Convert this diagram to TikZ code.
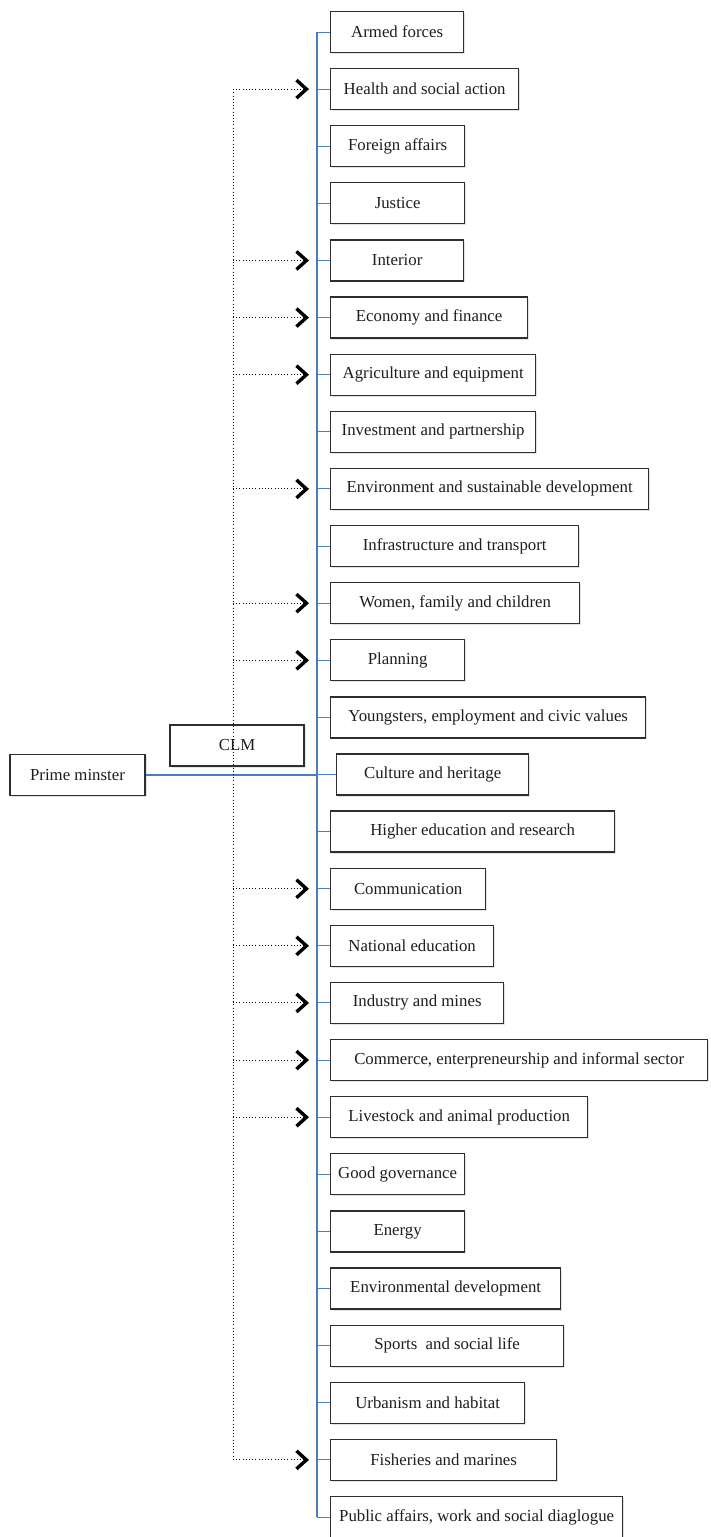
\documentclass[tikz,border=0pt]{standalone}
\usepackage{fontspec}
\setmainfont{Liberation Serif}
\usetikzlibrary{arrows.meta,shadows}
\definecolor{linkblue}{HTML}{4A7EBB}
\definecolor{boxline}{HTML}{2E2E2E}
\definecolor{boxtext}{HTML}{1E1E1E}
\begin{document}
\begin{tikzpicture}[x=1pt,y=-1pt,
  unit/.style={draw=boxline, line width=1.3pt, fill=white, minimum height=41pt,
    inner sep=0pt, text=boxtext, font=\fontsize{16.8}{19}\selectfont,
    drop shadow={shadow xshift=1.5pt, shadow yshift=-1.5pt, opacity=0.22}},
  ministry/.style={unit, anchor=west},
  trunkline/.style={draw=linkblue, line width=2pt},
  tickline/.style={draw=linkblue, line width=1pt},
  dotarrow/.style={line width=1pt, dash pattern=on 1pt off 2.2pt,
    -{Straight Barb[length=10pt,width=18pt,line width=3.4pt]}},
  dotline/.style={line width=1pt, dash pattern=on 1pt off 2.2pt}]
\useasboundingbox (0,0) rectangle (710,1537);

% reference columns: blue trunk and dotted feeder line
\coordinate (tr) at (317,0);
\coordinate (dv) at (233,0);

% ministries, one row every 57.115 units
\foreach \i/\l/\r/\t in {
  1/330/463/{Armed forces},
  2/330/518/{Health and social action},
  3/330/464/{Foreign affairs},
  4/330/464/{Justice},
  5/330/463/{Interior},
  6/330/527/{Economy and finance},
  7/330/535/{Agriculture and equipment},
  8/330/535/{Investment and partnership},
  9/330/648/{Environment and sustainable development},
  10/330/578/{Infrastructure and transport},
  11/330/579/{Women, family and children},
  12/330/464/{Planning},
  13/330/645/{Youngsters, employment and civic values},
  14/336/528/{Culture and heritage},
  15/330/614/{Higher education and research},
  16/330/485/{Communication},
  17/330/493/{National education},
  18/330/503/{Industry and mines},
  19/330/707/{Commerce, enterpreneurship and informal sector},
  20/330/587/{Livestock and animal production},
  21/330/464/{Good governance},
  22/330/464/{Energy},
  23/330/560/{Environmental development},
  24/330/563/{Sports\ \ and social life},
  25/330/524/{Urbanism and habitat},
  26/330/556/{Fisheries and marines},
  27/330/622/{Public affairs, work and social diaglogue}}
{
  \pgfmathsetmacro{\yy}{32+(\i-1)*57.115}
  \pgfmathsetmacro{\ww}{\r-\l}
  \node[ministry, minimum width=\ww pt] (b\i) at (\l,\yy) {\t};
}

% head of government and council
\node[unit, minimum width=135pt] (pm) at (77.5,775) {Prime minster};
\node[unit, minimum width=134pt] (clm) at (237,745.5) {CLM};

% blue hierarchy
\draw[trunkline] (tr |- b1.west) -- (tr |- b27.west);
\draw[trunkline] (pm.east) -- (tr |- pm.east);
\foreach \i in {1,...,27}
  \draw[tickline] (tr |- b\i.west) -- (b\i.west);

% dotted supervision links
\draw[dotline] (dv |- b2.west) -- (dv |- b26.west);
\foreach \i in {2,5,6,7,9,11,12,16,17,18,19,20,26}
  \draw[dotarrow] (dv |- b\i.west) -- ([xshift=-21pt]b\i.west);
\end{tikzpicture}
\end{document}
